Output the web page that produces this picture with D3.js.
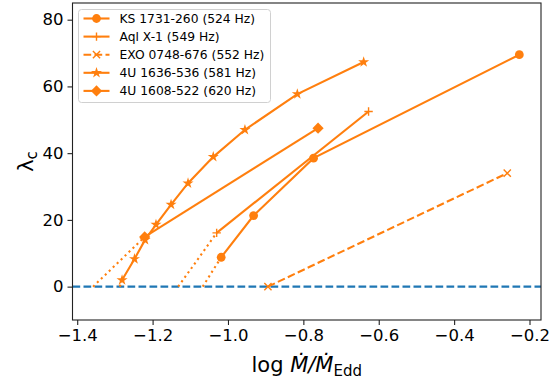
<!DOCTYPE html>
<html>
<head>
<meta charset="utf-8">
<script src="https://cdn.jsdelivr.net/npm/d3@7"></script>
<style>
  body { margin: 0; background: #fff; }
  svg { font-family: "DejaVu Sans", sans-serif; }
</style>
</head>
<body>
<div id="chart"></div>
<script>
// values
var labels = ["KS 1731-260 (524 Hz)", "Aql X-1 (549 Hz)", "EXO 0748-676 (552 Hz)",
              "4U 1636-536 (581 Hz)", "4U 1608-522 (620 Hz)"];
var ksX = [-1.018, -0.932, -0.773, -0.227];
var ksY = [8.8, 21.3, 38.5, 69.5];
var aqlX = [-1.030, -0.627];
var aqlY = [16.1, 52.5];
var exoX = [-0.894, -0.259];
var exoY = [0.0, 34.0];
var u1636X = [-1.281, -1.248, -1.220, -1.191, -1.151, -1.106, -1.039, -0.955, -0.816, -0.640];
var u1636Y = [2.0, 8.3, 14.0, 18.6, 24.6, 31.0, 38.9, 47.0, 57.7, 67.3];
var u1608X = [-1.221, -0.761];
var u1608Y = [14.9, 47.5];
// where the dotted extrapolation meets lambda_c = 0 (null = none)
var zeroX = [-1.067, -1.132, null, -1.287, -1.358];
var xTicks = [-1.4, -1.2, -1.0, -0.8, -0.6, -0.4, -0.2];
var yTicks = [0, 20, 40, 60, 80];

var orange = "#ff7f0e", blue = "#1f77b4";
var W = 558, H = 383;
var pLeft = 72.5, pRight = 541, pTop = 3, pBottom = 320;

var svg = d3.select("#chart").append("svg").attr("width", W).attr("height", H);

var x = d3.scaleLinear().domain([-1.4125, -0.1695]).range([pLeft, pRight]);
var y = d3.scaleLinear().domain([-10, 85]).range([pBottom, pTop]);

var xs = [ksX, aqlX, exoX, u1636X, u1608X];
var ys = [ksY, aqlY, exoY, u1636Y, u1608Y];
var markers = ["circle", "plus", "x", "star", "diamond"];
var dashes = [null, null, "7.7,3.3", null, null];

// axhline at 0
svg.append("line")
  .attr("x1", pLeft).attr("x2", pRight)
  .attr("y1", y(0)).attr("y2", y(0))
  .attr("stroke", blue).attr("stroke-width", 2.1)
  .attr("stroke-dasharray", "7.7,3.3");

function drawMarker(g, kind, cx, cy) {
  var m = g.append("g").attr("transform", "translate(" + cx + "," + cy + ")");
  var s;
  if (kind == "circle") {
    m.append("circle").attr("r", 4.4).attr("fill", orange);
  } else if (kind == "plus") {
    s = 4.2;
    m.append("path").attr("d", "M" + (-s) + ",0H" + s + "M0," + (-s) + "V" + s)
      .attr("stroke", orange).attr("stroke-width", 1.4).attr("fill", "none");
  } else if (kind == "x") {
    s = 3.6;
    m.append("path").attr("d", "M" + (-s) + "," + (-s) + "L" + s + "," + s + "M" + (-s) + "," + s + "L" + s + "," + (-s))
      .attr("stroke", orange).attr("stroke-width", 1.4).attr("fill", "none");
  } else if (kind == "star") {
    m.append("path").attr("d", d3.symbol().type(d3.symbolStar).size(38)())
      .attr("fill", orange);
  } else if (kind == "diamond") {
    s = 5.6;
    m.append("path").attr("d", "M0," + (-s) + "L" + s + ",0L0," + s + "L" + (-s) + ",0Z")
      .attr("fill", orange);
  }
}

var line = d3.line().x(function(d) { return x(d[0]); }).y(function(d) { return y(d[1]); });

var plot = svg.append("g");
xs.forEach(function(xv, i) {
  var pts = xv.map(function(v, j) { return [v, ys[i][j]]; });
  if (zeroX[i] != null) {
    plot.append("path")
      .attr("d", line([[zeroX[i], 0], pts[0]]))
      .attr("stroke", orange).attr("stroke-width", 2.1).attr("fill", "none")
      .attr("stroke-dasharray", "2.1,3.4");
  }
  plot.append("path")
    .attr("d", line(pts))
    .attr("stroke", orange).attr("stroke-width", 2.1).attr("fill", "none")
    .attr("stroke-dasharray", dashes[i]);
  pts.forEach(function(p) { drawMarker(plot, markers[i], x(p[0]), y(p[1])); });
});

// frame
svg.append("rect")
  .attr("x", pLeft).attr("y", pTop).attr("width", pRight - pLeft).attr("height", pBottom - pTop)
  .attr("fill", "none").attr("stroke", "#222").attr("stroke-width", 1.1);

// axes
var xAxis = svg.append("g").attr("transform", "translate(0," + pBottom + ")")
  .call(d3.axisBottom(x).tickValues(xTicks).tickSize(5).tickPadding(4)
    .tickFormat(function(d) { return d3.format(".1f")(d).replace("-", "\u2212"); }));
var yAxis = svg.append("g").attr("transform", "translate(" + pLeft + ",0)")
  .call(d3.axisLeft(y).tickValues(yTicks).tickSize(5).tickPadding(4));
[xAxis, yAxis].forEach(function(a) {
  a.select(".domain").remove();
  a.selectAll(".tick line").attr("stroke", "#222").attr("stroke-width", 1.1);
  a.selectAll(".tick text").attr("fill", "#000")
    .style("font-size", "16.5px").style("font-family", "DejaVu Sans");
});

// axis labels
var xl = svg.append("text")
  .attr("x", (pLeft + pRight) / 2).attr("y", 372)
  .attr("text-anchor", "middle").style("font-size", "21px");
xl.append("tspan").text("log ");
xl.append("tspan").style("font-style", "italic").text("\u1E40/\u1E40");
xl.append("tspan").attr("dy", 4).style("font-size", "15px").text("Edd");

var yl = svg.append("text")
  .attr("transform", "translate(33," + ((pTop + pBottom) / 2) + ") rotate(-90)")
  .attr("text-anchor", "middle").style("font-size", "21px");
yl.append("tspan").text("\u03bb");
yl.append("tspan").attr("dy", 4).style("font-size", "15px").text("c");

// legend
var lg = svg.append("g");
lg.append("rect")
  .attr("x", 78.5).attr("y", 9.5).attr("width", 192).attr("height", 93).attr("rx", 3)
  .attr("fill", "#fff").attr("fill-opacity", 0.8).attr("stroke", "#d0d0d0").attr("stroke-width", 1);
labels.forEach(function(lab, i) {
  var ly = 18.5 + i * 18.1;
  lg.append("line").attr("x1", 83.5).attr("x2", 109.5).attr("y1", ly).attr("y2", ly)
    .attr("stroke", orange).attr("stroke-width", 2.1)
    .attr("stroke-dasharray", dashes[i]);
  drawMarker(lg, markers[i], 96.5, ly);
  lg.append("text").attr("x", 119.5).attr("y", ly + 4.4)
    .style("font-size", "12.3px").text(lab);
});
</script>
</body>
</html>
